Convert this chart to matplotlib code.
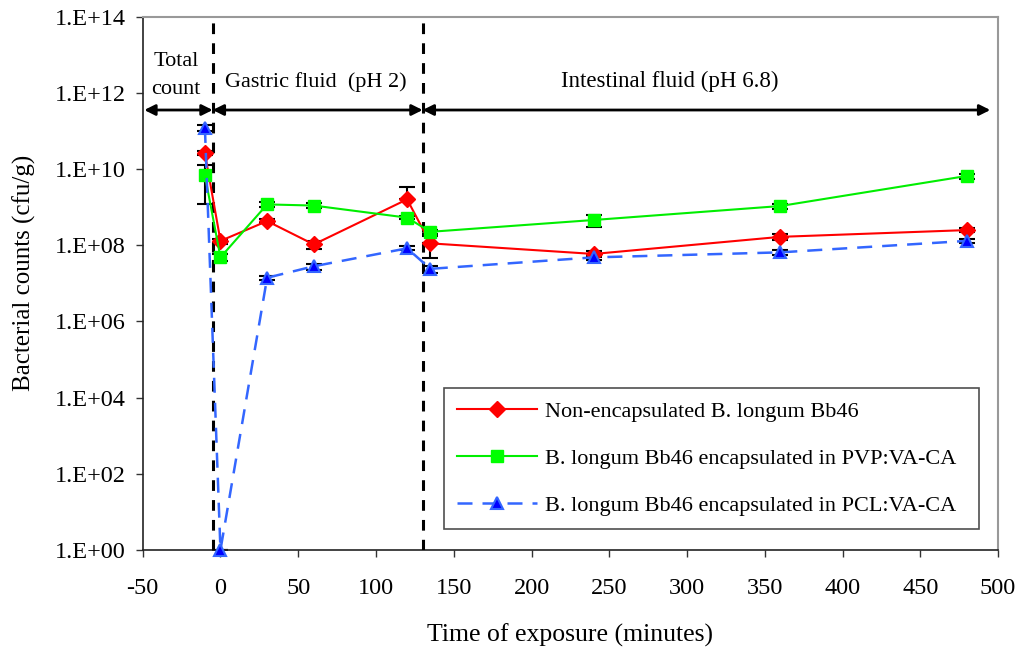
import numpy as np
import matplotlib
matplotlib.use("Agg")
import matplotlib.pyplot as plt
from matplotlib.ticker import FixedLocator, FuncFormatter, NullLocator
from matplotlib.lines import Line2D

plt.rcParams["font.family"] = ["Liberation Serif", "DejaVu Serif"]
plt.rcParams["axes.unicode_minus"] = False

# time points (minutes) and survival counts (cfu/g)
time = [-10, 0, 30, 60, 120, 135, 240, 360, 480]
free_cells = [2.6e10, 1.3e8, 4.3e8, 1.05e8, 1.6e9, 1.12e8, 5.9e7, 1.66e8, 2.5e8]
pvp_cells = [6.9e9, 4.8e7, 1.18e9, 1.1e9, 5.3e8, 2.25e8, 4.6e8, 1.07e9, 6.6e9]
pcl_cells = [1.2e11, 1.0, 1.4e7, 2.8e7, 8.3e7, 2.4e7, 4.8e7, 6.5e7, 1.3e8]

# error bars (lower, upper)
free_err_lo = [3e9, 2e7, 5e7, 2.5e7, 0, 6.7e7, 1e7, 3e7, 3e7]
free_err_hi = [3e9, 2e7, 5e7, 2.5e7, 1.8e9, 6.7e7, 1e7, 3e7, 3e7]
pvp_err = [5.7e9, 1e7, 2e8, 1.5e8, 5e7, 3e7, 1.5e8, 1.5e8, 1e9]
pcl_err = [2e10, 0, 2e6, 5e6, 1e7, 5e6, 8e6, 1e7, 1.5e7]

labels = ["Non-encapsulated B. longum Bb46",
          "B. longum Bb46 encapsulated in PVP:VA-CA",
          "B. longum Bb46 encapsulated in PCL:VA-CA"]

phase_bounds = [-5, 130]
phase_names = ["Total\ncount", "Gastric fluid  (pH 2)", "Intestinal fluid (pH 6.8)"]

fig = plt.figure(figsize=(10.2, 6.47), dpi=100)
ax = fig.add_axes([0.1399, 0.150, 0.8386, 0.8242])

# error bars first so the markers sit on top
for vals, err in [(free_cells, [free_err_lo, free_err_hi]), (pvp_cells, pvp_err), (pcl_cells, pcl_err)]:
    ax.errorbar(time, vals, yerr=err, fmt="none", ecolor="black",
                elinewidth=1.5, capsize=6, capthick=1.5, zorder=2)

ax.plot(time, free_cells, color="#ff0000", lw=1.5, marker="D", ms=8,
        mfc="#ff0000", mec="#ff0000", label=labels[0], zorder=4)
ax.plot(time, pvp_cells, color="#00ee00", lw=1.5, marker="s", ms=8.5,
        mfc="#00ff00", mec="#00ff00", label=labels[1], zorder=4)
ax.plot(time, pcl_cells, color="#3366ff", lw=1.8, ls=(0, (6, 4)), marker="^", ms=9,
        mfc="#0000ff", mec="#3366ff", mew=1.5, label=labels[2], zorder=5,
        clip_on=False)

# phase boundaries
for xb in phase_bounds:
    ax.axvline(xb, color="black", lw=2.2, ls=(0, (3.5, 3)), zorder=3)

ax.set_xlim(-50, 500)
ax.set_ylim(1, 1e14)
ax.set_yscale("log")
ax.yaxis.set_major_locator(FixedLocator([10.0 ** k for k in range(0, 15, 2)]))
ax.yaxis.set_minor_locator(NullLocator())
ax.yaxis.set_major_formatter(FuncFormatter(lambda v, p: "1.E+%02d" % round(np.log10(v))))
ax.set_xticks(np.arange(-50, 501, 50))

ax.tick_params(axis="both", labelsize=17.5, direction="out", length=5, width=1, color="#333333")
ax.tick_params(axis="x", pad=15)
ax.tick_params(axis="y", pad=7)
for s in ["left", "bottom"]:
    ax.spines[s].set_color("#222222")
    ax.spines[s].set_linewidth(1.2)
for s in ["top", "right"]:
    ax.spines[s].set_color("#999999")
    ax.spines[s].set_linewidth(1.5)

ax.set_xlabel("Time of exposure (minutes)", fontsize=18.5, labelpad=18)
ax.set_ylabel("Bacterial counts (cfu/g)", fontsize=18)
ax.yaxis.set_label_coords(-0.125, 0.52)

# double headed arrows marking the phases
arrow_y = 0.825
spans = [(-49, phase_bounds[0]), (phase_bounds[0], phase_bounds[1]), (phase_bounds[1], 495)]
trans = ax.get_xaxis_transform()
for x0, x1 in spans:
    ax.annotate("", xy=(x1, arrow_y), xytext=(x0, arrow_y), xycoords=trans, textcoords=trans,
                arrowprops=dict(arrowstyle="<|-|>", color="black", lw=2,
                                mutation_scale=16, shrinkA=0, shrinkB=0))

ax.text(-28.4, 0.889, phase_names[0], transform=trans, ha="center", va="center",
        fontsize=16, linespacing=1.65)
ax.text(61.5, 0.878, phase_names[1], transform=trans, ha="center", va="center", fontsize=16)
ax.text(289, 0.878, phase_names[2], transform=trans, ha="center", va="center", fontsize=16.5)

handles = [
    Line2D([], [], color="#ff0000", lw=1.5, marker="D", ms=8, mfc="#ff0000", mec="#ff0000"),
    Line2D([], [], color="#00ee00", lw=1.5, marker="s", ms=8.5, mfc="#00ff00", mec="#00ff00"),
    Line2D([], [], color="#3366ff", lw=1.8, ls=(0, (6, 4)), marker="^", ms=9,
           mfc="#0000ff", mec="#3366ff", mew=1.5),
]
leg = ax.legend(handles, labels, loc="lower left", bbox_to_anchor=(0.352, 0.039, 0.6255, 0.26),
                mode="expand", fontsize=16, frameon=True, fancybox=False, handlelength=3.6,
                labelspacing=1.18, borderpad=0.6, handletextpad=0.35, borderaxespad=0)
leg.get_frame().set_edgecolor("#222222")
leg.get_frame().set_linewidth(1.2)

plt.savefig("out.png", dpi=100)
